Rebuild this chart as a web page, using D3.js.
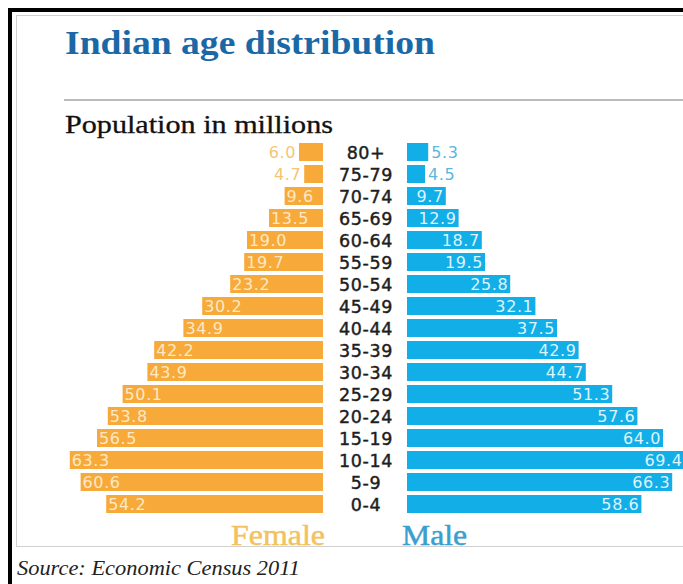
<!DOCTYPE html>
<html lang="en">
<head>
<meta charset="UTF-8">
<title>Indian age distribution</title>
<style>
    body { margin: 0; background: #fff; }
    svg { display: block; }
    .age { font-family: 'DejaVu Sans', sans-serif; font-size: 17.5px; letter-spacing: 0.6px; fill: #1e1e1e; stroke: #1e1e1e; stroke-width: 0.45px; }
    .val { font-family: 'DejaVu Sans', sans-serif; font-size: 16px; letter-spacing: 0.6px; }
</style>
</head>
<body>
<div id="chart"></div>
<script src="https://d3js.org/d3.v7.min.js"></script>
<script>
    const ages = ["80+", "75-79", "70-74", "65-69", "60-64", "55-59", "50-54", "45-49", "40-44",
                  "35-39", "30-34", "25-29", "20-24", "15-19", "10-14", "5-9", "0-4"];
    const female = [6.0, 4.7, 9.6, 13.5, 19.0, 19.7, 23.2, 30.2, 34.9, 42.2, 43.9, 50.1, 53.8, 56.5, 63.3, 60.6, 54.2];
    const male = [5.3, 4.5, 9.7, 12.9, 18.7, 19.5, 25.8, 32.1, 37.5, 42.9, 44.7, 51.3, 57.6, 64.0, 69.4, 66.3, 58.6];

    const width = 683, height = 584;
    const orange = "#f7aa3a", blue = "#12aee8";

    const svg = d3.select("#chart").append("svg")
        .attr("width", width)
        .attr("height", height);

    // frame
    svg.append("rect").attr("x", 10).attr("y", 10).attr("width", 700).attr("height", 600)
        .attr("fill", "none").attr("stroke", "#000").attr("stroke-width", 4);
    svg.append("rect").attr("x", 16.5).attr("y", 15.5).attr("width", 700).attr("height", 531)
        .attr("fill", "none").attr("stroke", "#d0d0d0").attr("stroke-width", 1);

    svg.append("text").attr("x", 65).attr("y", 54)
        .attr("font-family", "'Liberation Serif', serif").attr("font-weight", "bold")
        .attr("font-size", 33).attr("fill", "#1b68a6")
        .attr("textLength", 370).attr("lengthAdjust", "spacingAndGlyphs")
        .text("Indian age distribution");

    svg.append("line").attr("x1", 64).attr("x2", width).attr("y1", 100).attr("y2", 100)
        .attr("stroke", "#bbb").attr("stroke-width", 2);

    svg.append("text").attr("x", 65).attr("y", 133)
        .attr("font-family", "'Liberation Serif', serif").attr("font-size", 25).attr("fill", "#111")
        .attr("stroke", "#111").attr("stroke-width", 0.3)
        .attr("textLength", 268).attr("lengthAdjust", "spacingAndGlyphs")
        .text("Population in millions");

    const y = d3.scaleBand().domain(ages).range([143, 513]).paddingInner(4 / 22);
    const xF = d3.scaleLinear().domain([0, 70]).range([323, 43]);
    const xM = d3.scaleLinear().domain([0, 70]).range([407, 687]);

    const fRows = ages.map((a, i) => ({ age: a, v: female[i] }));
    const mRows = ages.map((a, i) => ({ age: a, v: male[i] }));

    svg.append("g").selectAll("rect").data(fRows).join("rect")
        .attr("x", d => xF(d.v)).attr("y", d => y(d.age))
        .attr("width", d => xF(0) - xF(d.v)).attr("height", y.bandwidth())
        .attr("fill", orange);

    svg.append("g").selectAll("rect").data(mRows).join("rect")
        .attr("x", xM(0)).attr("y", d => y(d.age))
        .attr("width", d => xM(d.v) - xM(0)).attr("height", y.bandwidth())
        .attr("fill", blue);

    const small = 8;
    svg.append("g").selectAll("text").data(fRows).join("text")
        .attr("class", "val")
        .attr("x", d => d.v < small ? xF(d.v) - 3 : xF(d.v) + 2)
        .attr("y", d => y(d.age) + y.bandwidth() / 2 + 6)
        .attr("text-anchor", d => d.v < small ? "end" : "start")
        .attr("fill", d => d.v < small ? "#f3c675" : "#fde8c6")
        .text(d => d.v.toFixed(1));

    svg.append("g").selectAll("text").data(mRows).join("text")
        .attr("class", "val")
        .attr("x", d => d.v < small ? xM(d.v) + 3 : xM(d.v) - 2)
        .attr("y", d => y(d.age) + y.bandwidth() / 2 + 6)
        .attr("text-anchor", d => d.v < small ? "start" : "end")
        .attr("fill", d => d.v < small ? "#5bb8dc" : "#dff3fb")
        .text(d => d.v.toFixed(1));

    svg.append("g").selectAll("text").data(ages).join("text")
        .attr("class", "age")
        .attr("x", 366)
        .attr("y", d => y(d) + y.bandwidth() / 2 + 6.5)
        .attr("text-anchor", "middle")
        .text(d => d);

    svg.append("text").attr("x", 325).attr("y", 545).attr("text-anchor", "end")
        .attr("font-family", "'Liberation Serif', serif").attr("font-size", 30).attr("fill", "#f2c261")
        .attr("stroke", "#f2c261").attr("stroke-width", 0.5)
        .attr("textLength", 94).attr("lengthAdjust", "spacingAndGlyphs")
        .text("Female");
    svg.append("text").attr("x", 402).attr("y", 545)
        .attr("font-family", "'Liberation Serif', serif").attr("font-size", 30).attr("fill", "#3a9fcf")
        .attr("stroke", "#3a9fcf").attr("stroke-width", 0.5)
        .attr("textLength", 65).attr("lengthAdjust", "spacingAndGlyphs")
        .text("Male");

    svg.append("text").attr("x", 17).attr("y", 575)
        .attr("font-family", "'Liberation Serif', serif").attr("font-style", "italic")
        .attr("font-size", 20).attr("fill", "#222")
        .attr("textLength", 283).attr("lengthAdjust", "spacingAndGlyphs")
        .text("Source: Economic Census 2011");
</script>
</body>
</html>
